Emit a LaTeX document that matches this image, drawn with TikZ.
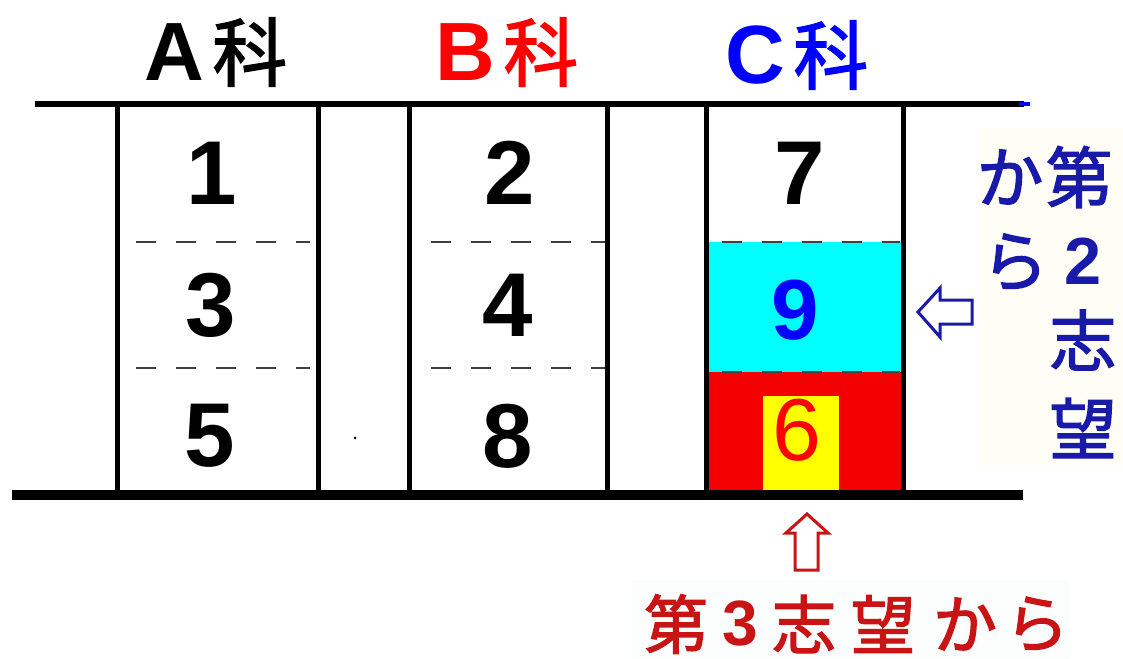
\documentclass[tikz,border=0pt]{standalone}
\usepackage{fontspec}
\setmainfont{Liberation Sans}
\newfontfamily\jp{Noto Sans CJK JP}[AutoFakeBold=2]
\definecolor{hdrRed}{RGB}{255,0,0}
\definecolor{hdrBlue}{RGB}{0,0,255}
\definecolor{noteBlue}{RGB}{25,25,170}
\definecolor{noteRed}{RGB}{200,20,20}
\definecolor{fillCyan}{RGB}{0,255,255}
\definecolor{fillRed}{RGB}{245,0,0}
\definecolor{fillYellow}{RGB}{255,255,0}
\definecolor{paleBg}{RGB}{254,254,246}
\definecolor{paleBgB}{RGB}{252,254,254}
\tikzset{
  wall/.style={line width=3.75pt},
  sep/.style={line width=1.5pt, color=black!75, dash pattern=on 15pt off 15pt},
  num/.style={inner sep=0pt, font=\fontsize{68}{68}\selectfont\bfseries},
  hdr/.style={inner sep=0pt},
  notech/.style={inner sep=0pt, text=noteBlue, font=\fontsize{50}{50}\selectfont\jp\bfseries},
  notechR/.style={inner sep=0pt, text=noteRed, font=\fontsize{48}{48}\selectfont\jp\bfseries},
  hollowB/.style={draw=noteBlue, fill=white, line width=2.25pt, line join=miter},
  hollowR/.style={draw=noteRed, fill=white, line width=2.25pt, line join=miter}
}
\begin{document}
\begin{tikzpicture}[x=0.75pt,y=-0.75pt]
\useasboundingbox (0,0) rectangle (1123,659);
\fill[white] (0,0) rectangle (1123,659);
% pale backgrounds behind the notes
\fill[paleBg] (980,128) rectangle (1123,466);
\fill[paleBgB] (632,580) rectangle (1070,659);
% coloured cells
\fill[fillCyan] (706,242) rectangle (903,372);
\fill[fillRed] (706,372) rectangle (903,490);
\fill[fillYellow] (763,396) rectangle (839,490);
% dashed separators
\draw[sep] (136,242) -- (310,242);
\draw[sep] (136,368) -- (310,368);
\draw[sep] (431,242) -- (605,242);
\draw[sep] (431,368) -- (605,368);
\draw[sep] (722,242) -- (900,242);
\draw[sep] (722,372) -- (900,372);
% walls
\foreach \xx in {117,318,409,607,706,903} \draw[wall] (\xx,104) -- (\xx,490);
\draw[line width=4pt] (35,104) -- (1024,104);
\draw[hdrBlue, line width=3pt] (1019,104) -- (1030,104);
\draw[line width=7.5pt] (12,495) -- (1023,495);
\fill (355,438) circle (1.5);
% headers
\node[hdr] (hA) at (216,52) {{\fontsize{62}{62}\selectfont\bfseries A}\hspace{6pt}{\fontsize{56}{56}\selectfont\jp\bfseries 科}};
\node[hdr, text=hdrRed] (hB) at (507,52) {{\fontsize{62}{62}\selectfont\bfseries B}\hspace{6pt}{\fontsize{56}{56}\selectfont\jp\bfseries 科}};
\node[hdr, text=hdrBlue] (hC) at (797,55) {{\fontsize{62}{62}\selectfont\bfseries C}\hspace{6pt}{\fontsize{56}{56}\selectfont\jp\bfseries 科}};
% numbers
\node[num] (n1) at (212,173) {1};
\node[num] (n2) at (510,173) {2};
\node[num] (n7) at (800,173) {7};
\node[num] (n3) at (211,305) {3};
\node[num] (n4) at (508,305) {4};
\node[num, text=hdrBlue, font=\fontsize{64}{64}\selectfont\bfseries] (n9) at (795,310) {9};
\node[num] (n5) at (210,436) {5};
\node[num] (n8) at (508,436) {8};
\node[num, text=hdrRed, font=\fontsize{66}{66}\selectfont] (n6) at (797,430) {6};
% right note (vertical text)
\node[notech] (rKa) at (1010,177) {か};
\node[notech] (rRa) at (1015,262) {ら};
\node[notech] (rDai) at (1079,177) {第};
\node[notech, font=\fontsize{50}{50}\selectfont\bfseries] (rTwo) at (1083,261) {2};
\node[notech] (rShi) at (1083,340) {志};
\node[notech] (rBou) at (1083,428) {望};
% bottom note
\node[notechR] (bDai) at (676,624) {第};
\node[notechR, font=\fontsize{48}{48}\selectfont\bfseries] (bThree) at (740,624) {3};
\node[notechR] (bShi) at (804,624) {志};
\node[notechR] (bBou) at (883,624) {望};
\node[notechR] (bKa) at (965,624) {か};
\node[notechR] (bRa) at (1037,624) {ら};
% hollow arrows
\draw[hollowB] (918,312) -- (940,288) -- (940,300) -- (972,300) -- (972,324) -- (940,324) -- (940,337) -- cycle;
\draw[hollowR] (807,514) -- (828,533) -- (818,533) -- (818,570) -- (795,570) -- (795,533) -- (786,533) -- cycle;
\end{tikzpicture}
\end{document}
